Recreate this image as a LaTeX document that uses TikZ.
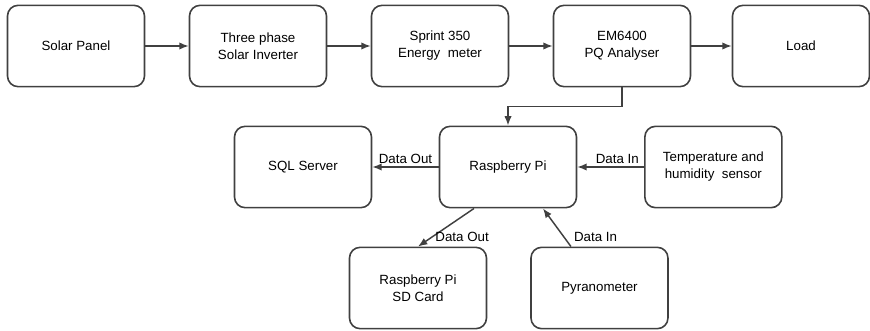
\documentclass[tikz,border=0pt]{standalone}
\usepackage{fontspec}
\setmainfont{Liberation Sans}
\usepackage{tikz}
\usetikzlibrary{shapes.geometric, arrows.meta}
\tikzstyle{block} = [rectangle, draw=black!75, line width=1.2pt, rounded corners=8pt,
    text centered, align=center, text=black, minimum height=61pt, minimum width=102.75pt,
    font=\fontsize{10}{12.75}\selectfont]
\tikzstyle{line} = [draw=black!75, line width=1.1pt, -{Latex[length=7pt, width=5.5pt]}]
\tikzstyle{lbl} = [font=\fontsize{10}{12}\selectfont, text=black, inner sep=2pt]

\begin{document}
\begin{tikzpicture}[node distance=136.5pt, auto]

    \useasboundingbox (0,0) rectangle (652.5pt,-248.25pt);

    \node [block] (panel) at (57pt,-34.5pt) {Solar Panel};
    \node [block, right of=panel] (inverter) {Three phase\\Solar Inverter};
    \node [block, right of=inverter] (meter) {Sprint 350\\Energy\ \ meter};
    \node [block, right of=meter] (em) {EM6400\\PQ Analyser};
    \node [block, right of=em, node distance=134.25pt] (load) {Load};

    \path [line] (panel) -- (inverter);
    \path [line] (inverter) -- (meter);
    \path [line] (meter) -- (em);
    \path [line] (em) -- (load);

    \node [block, below of=em, node distance=90.75pt, xshift=-85.5pt] (rpi) {Raspberry Pi};
    \node [block, left of=rpi, node distance=153.75pt] (sql) {SQL Server};
    \node [block, right of=rpi, node distance=154pt] (sensor) {Temperature and\\humidity\ \ sensor};
    \node [block, below of=rpi, node distance=90.75pt, xshift=-67.5pt] (sdcard) {Raspberry Pi\\SD Card};
    \node [block, below of=rpi, node distance=90.75pt, xshift=68.6pt] (pyro) {Pyranometer};

    \path [line] (em.south) -- ++(0,-14.25pt) -| (rpi.north);
    \path [line] (rpi) -- node [lbl, above] {Data Out} (sql);
    \path [line] (sensor) -- node [lbl, above, pos=0.4] {Data In} (rpi);
    \path [line] ([xshift=-25.5pt]rpi.south) -- node [lbl, pos=0.75, right] {Data Out} (sdcard.north);
    \path [line] ([xshift=-21.4pt]pyro.north) -- node [lbl, pos=0.25, right, xshift=5pt] {Data In} ([xshift=26.25pt]rpi.south);

\end{tikzpicture}
\end{document}
